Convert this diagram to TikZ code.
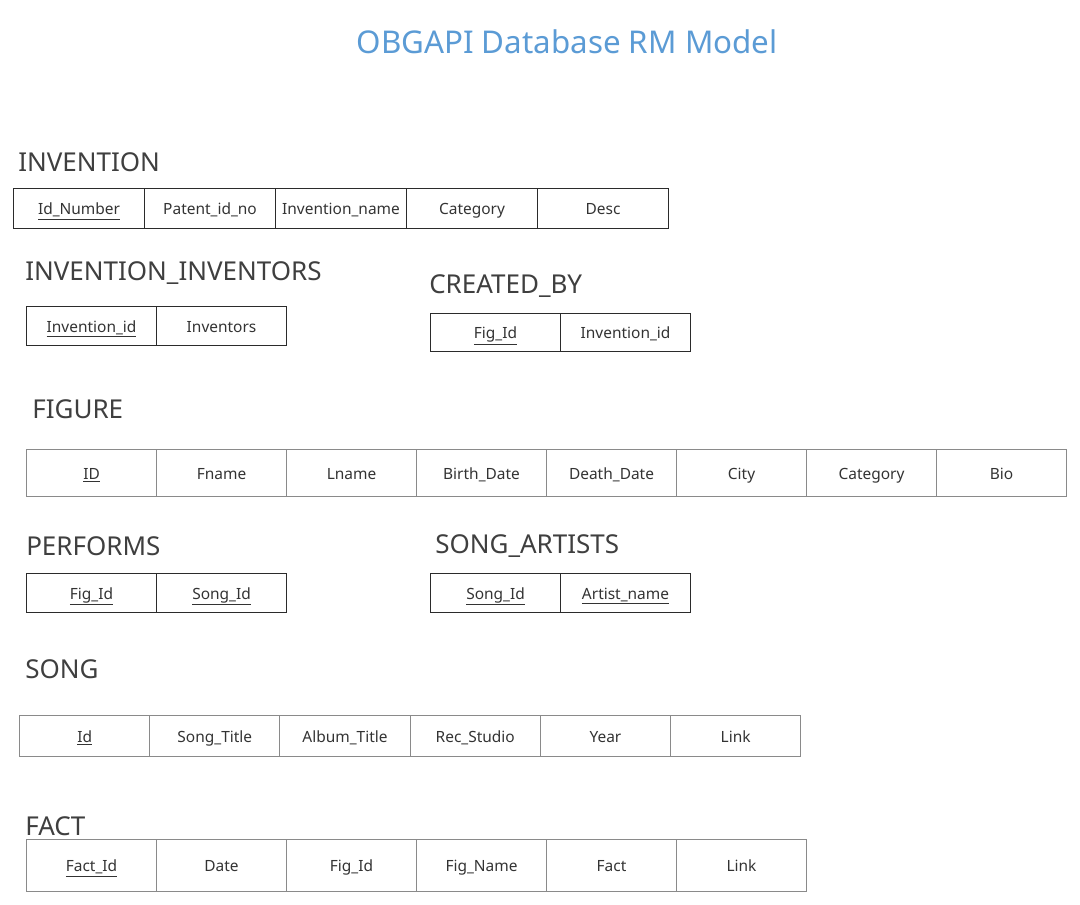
\documentclass[tikz,border=0pt]{standalone}
\usepackage{fontspec}
\setmainfont{Noto Sans}
\usetikzlibrary{positioning}
\definecolor{titleblue}{HTML}{5B9BD5}
\definecolor{headgray}{HTML}{3F3F3F}
\definecolor{cellgray}{HTML}{333333}
\definecolor{darkline}{HTML}{2B2B2B}
\definecolor{lightline}{HTML}{8A8A8A}
\newcommand{\key}[1]{\underline{#1}}
% one row of a relation: name, left x, top y, cell width, cell height, line colour, cells
\newcommand{\reltable}[7]{%
  \foreach \lab [count=\i] in {#7}
    \node[cell=#6, minimum width=#4*0.75pt, minimum height=#5*0.75pt]
      (#1-\i) at ({#2+(\i-1)*#4},#3) {\lab};
}

\begin{document}
\begin{tikzpicture}[x=0.75pt,y=-0.75pt,
    title/.style={font=\fontsize{23.5}{28}\selectfont, text=titleblue},
    tabhead/.style={font=\fontsize{19.5}{23}\selectfont, text=headgray, anchor=west, inner sep=0pt},
    cell/.style={draw=#1, line width=0.8pt, text=cellgray, font=\fontsize{11.6}{14}\selectfont,
      anchor=north west, inner sep=0pt, text height=10.5pt, text depth=1.5pt}]
		%%%%% START %%%%%
		\useasboundingbox (0,0) rectangle (1080,904);
		
		\node[title] (title) at (567,42) {OBGAPI Database RM Model};
		
		\node[tabhead] (h-invention) at (18,162) {INVENTION};
		\reltable{invention}{13}{188}{131}{40}{darkline}{\key{Id\_Number}, Patent\_id\_no, Invention\_name, Category, Desc}
		
		\node[tabhead] (h-inventors) at (25,273) {INVENTION\_INVENTORS};
		\reltable{inventors}{26}{306}{130}{39}{darkline}{\key{Invention\_id}, Inventors}
		
		\node[tabhead] (h-createdby) at (429,286) {CREATED\_BY};
		\reltable{createdby}{430}{313}{130}{38}{darkline}{\key{Fig\_Id}, Invention\_id}
		
		\node[tabhead] (h-figure) at (32,409) {FIGURE};
		\reltable{figure}{26}{449}{130}{47}{lightline}{\key{ID}, Fname, Lname, Birth\_Date, Death\_Date, City, Category, Bio}
		
		\node[tabhead] (h-performs) at (26,546) {PERFORMS};
		\reltable{performs}{26}{573}{130}{39}{darkline}{\key{Fig\_Id}, \key{Song\_Id}}
		
		\node[tabhead] (h-songartists) at (435,546) {SONG\_ARTISTS};
		\reltable{songartists}{430}{573}{130}{39}{darkline}{\key{Song\_Id}, \key{Artist\_name}}
		
		\node[tabhead] (h-song) at (25,669) {SONG};
		\reltable{song}{19}{715}{130.2}{41}{lightline}{\key{Id}, Song\_Title, Album\_Title, Rec\_Studio, Year, Link}
		
		\node[tabhead] (h-fact) at (25,826) {FACT};
		\reltable{fact}{26}{839}{130}{52}{lightline}{\key{Fact\_Id}, Date, Fig\_Id, Fig\_Name, Fact, Link}
		%%%%% END %%%%%
\end{tikzpicture}
\end{document}
